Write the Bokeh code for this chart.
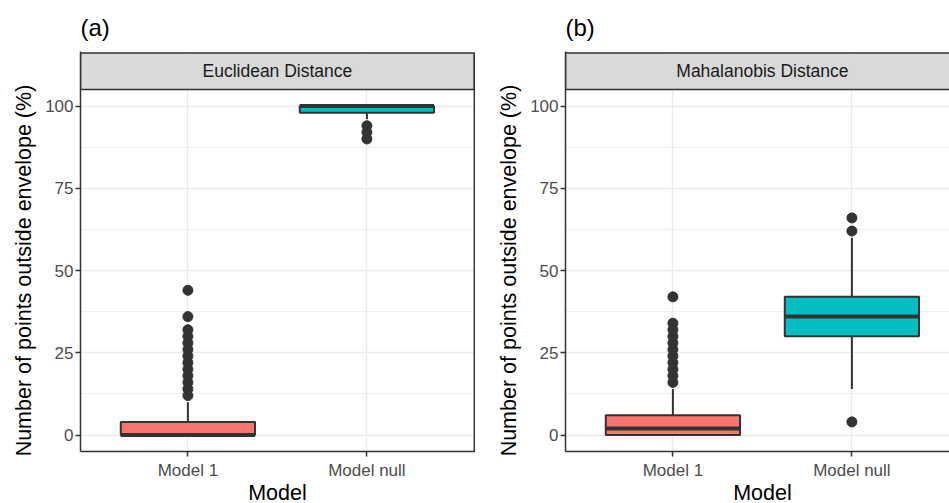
from bokeh.plotting import figure
from bokeh.models import Range1d, FixedTicker, Title, ColumnDataSource
from bokeh.layouts import row
from bokeh.core.properties import value
from bokeh.embed import file_html
from bokeh.resources import INLINE

# ---------------- data ----------------
categories = ["Model 1", "Model null"]
panel_titles = ["Euclidean Distance", "Mahalanobis Distance"]
panel_tags = ["(a)", "(b)"]
y_ticks = [0, 25, 50, 75, 100]
x_title = "Model"
y_title = "Number of points outside envelope (%)"

euc_q1 = [0, 98]
euc_median = [0, 100]
euc_q3 = [4, 100]
euc_low = [0, 96]
euc_high = [10, 100]
euc_out_model1 = [12, 14, 16, 18, 20, 22, 24, 26, 28, 30, 32, 36, 44]
euc_out_null = [90, 92, 94]

mah_q1 = [0, 30]
mah_median = [2, 36]
mah_q3 = [6, 42]
mah_low = [0, 14]
mah_high = [14, 60]
mah_out_model1 = [16, 18, 20, 22, 24, 26, 28, 30, 32, 34, 42]
mah_out_null = [4, 62, 66]

fill_colors = ["#F8766D", "#00BFC4"]
FONT = "Liberation Sans"
DARK = "#333333"
GRID = "#EBEBEB"

Y_LO, Y_HI = -5, 105
STRIP_TOP = 116.1
UNIT_PX = 179.0
H = 503
TOP = 51
BOTTOM = 52
TITLE_PX = 21.5


def make_panel(tag, title, q1, med, q3, lo, hi, outliers, width, left, right_border):
    frame_w = width - left
    x_end = 0.4 + frame_w / UNIT_PX
    frame_h = H - TOP - BOTTOM
    y_end = Y_LO + frame_h / 3.29
    p = figure(width=width, height=H, x_range=Range1d(0.4, x_end),
               y_range=Range1d(Y_LO, y_end),
               output_backend="svg", toolbar_location=None,
               min_border_left=left, min_border_right=0,
               min_border_top=TOP, min_border_bottom=BOTTOM, title=tag)
    p.outline_line_color = None
    p.background_fill_color = "white"
    p.border_fill_color = "white"

    p.title.text_font = FONT
    p.title.text_font_size = "24px"
    p.title.text_font_style = "normal"
    p.title.text_color = "black"
    p.title.align = "left"
    p.title.standoff = 22

    xs = list(range(1, len(categories) + 1))
    overrides = {x: c for x, c in zip(xs, categories)}

    # axes
    p.xaxis.ticker = FixedTicker(ticks=xs)
    p.xaxis.major_label_overrides = overrides
    p.yaxis.ticker = FixedTicker(ticks=y_ticks, minor_ticks=[12.5, 37.5, 62.5, 87.5])
    for ax in (p.xaxis, p.yaxis):
        ax.axis_line_color = DARK
        ax.axis_line_width = 1.5
        ax.major_tick_line_color = DARK
        ax.major_tick_line_width = 1.5
        ax.major_tick_out = 5
        ax.major_tick_in = 0
        ax.minor_tick_line_color = None
        ax.major_label_text_font = FONT
        ax.major_label_text_font_size = "17px"
        ax.major_label_text_color = "#4D4D4D"
    p.xaxis.major_label_standoff = 4
    p.yaxis.major_label_standoff = 2

    # grid
    p.xgrid.ticker = FixedTicker(ticks=xs)
    p.xgrid.grid_line_color = GRID
    p.xgrid.grid_line_width = 1.4
    p.ygrid.grid_line_color = GRID
    p.ygrid.grid_line_width = 1.4
    p.ygrid.minor_grid_line_color = GRID
    p.ygrid.minor_grid_line_width = 0.8

    # axis titles (left-aligned with offsets so they centre on the panel, not the strip)
    frame_bottom = H - BOTTOM
    panel_mid_px = frame_bottom - ((Y_LO + Y_HI) / 2 - Y_LO) * 3.29
    y_len = 17.285 * TITLE_PX
    y_off = (frame_bottom - panel_mid_px) - y_len / 2
    p.add_layout(Title(text=y_title, align="left", offset=y_off, standoff=14,
                       text_font=FONT, text_font_size=f"{TITLE_PX}px",
                       text_font_style="normal", text_color="black"), "left")
    x_len = 2.723 * TITLE_PX
    x_off = (1.5 - 0.4) * UNIT_PX - x_len / 2
    p.add_layout(Title(text=x_title, align="left", offset=x_off, standoff=-8,
                       text_font=FONT, text_font_size=f"{TITLE_PX}px",
                       text_font_style="normal", text_color="black"), "below")

    # boxes
    src = ColumnDataSource(dict(x=xs, q1=q1, med=med, q3=q3, lo=lo, hi=hi, color=fill_colors))
    p.segment(x0="x", y0="q3", x1="x", y1="hi", source=src, line_color=DARK, line_width=2)
    p.segment(x0="x", y0="q1", x1="x", y1="lo", source=src, line_color=DARK, line_width=2)
    p.vbar(x="x", width=0.75, bottom="q1", top="q3", source=src, fill_color="color",
           line_color=DARK, line_width=2)
    p.segment(x0=[x - 0.375 for x in xs], y0=med, x1=[x + 0.375 for x in xs], y1=med,
              line_color=DARK, line_width=4)

    ox, oy = [], []
    for x, outs in zip(xs, outliers):
        ox += [x] * len(outs)
        oy += outs
    p.scatter(x=ox, y=oy, size=10, fill_color=DARK, line_color=DARK)

    # strip
    p.quad(left=[0.4], right=[2.6], bottom=[Y_HI], top=[STRIP_TOP], fill_color="#D9D9D9",
           line_color=DARK, line_width=1.5)
    p.text(x=[1.5], y=[(Y_HI + STRIP_TOP) / 2], text=[title], text_align="center",
           text_baseline="middle", text_font=value(FONT), text_font_size=value("17.5px"),
           text_color="#1A1A1A")
    if right_border:
        p.segment(x0=[2.6], y0=[Y_LO], x1=[2.6], y1=[STRIP_TOP], line_color=DARK,
                  line_width=1.5)
    return p


pa = make_panel(panel_tags[0], panel_titles[0], euc_q1, euc_median, euc_q3, euc_low,
                euc_high, [euc_out_model1, euc_out_null], 475, 80, True)
pb = make_panel(panel_tags[1], panel_titles[1], mah_q1, mah_median, mah_q3, mah_low,
                mah_high, [mah_out_model1, mah_out_null], 474, 90, False)

layout = row(pa, pb, spacing=0)
open("out.html", "w").write(file_html(layout, INLINE))
